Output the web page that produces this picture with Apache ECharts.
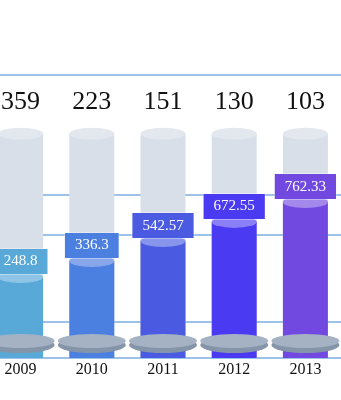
<!DOCTYPE html>
<html>
<head>
<meta charset="utf-8">
<script src="https://cdn.jsdelivr.net/npm/echarts@6/dist/echarts.min.js"></script>
<style>
html,body{margin:0;padding:0;background:#fff;overflow:hidden;width:341px;height:400px;}
#main{width:356px;height:400px;margin-left:-15px;}
</style>
</head>
<body>
<div id="main"></div>
<script>
var categories = ['2009', '2010', '2011', '2012', '2013'];
var topLabels = [359, 223, 151, 130, 103];
var valueLabels = ['248.8', '336.3', '542.57', '672.55', '762.33'];
var barHeights = [28.6, 34.3, 41.3, 48.1, 55.1];
var backHeights = [79.2, 79.2, 79.2, 79.2, 79.2];
// gridline positions as fraction of plot height (from bottom)
var gridLineValues = [57.6, 43.5, 12.7];
var barColors = ['#58a9d8', '#4b7fe0', '#4a5be2', '#4a3af2', '#7249e0'];
var capColors = ['#8ec5e6', '#88a7eb', '#8795ec', '#8a7ff6', '#a289eb'];

var chart = echarts.init(document.getElementById('main'));
function mk(vals, colors) {
  return vals.map(function (v, i) {
    return { value: v, itemStyle: { color: colors[i] } };
  });
}
var gridLineStyle = { color: '#9cc2ea', width: 2 };
function lineAxis(v) {
  // one axis per gridline: tick from min 0 lands on the wanted line
  var inv = v < 50;
  return {
    type: 'value', min: 0, max: 100, inverse: inv,
    interval: inv ? 100 - v : v,
    show: true,
    axisLine: { show: false }, axisTick: { show: false }, axisLabel: { show: false },
    splitLine: { show: true, lineStyle: gridLineStyle }
  };
}
var yAxes = [{ type: 'value', min: 0, max: 100, show: false }];
gridLineValues.forEach(function (v) { yAxes.push(lineAxis(v)); });

var option = {
  animation: false,
  backgroundColor: '#ffffff',
  grid: { left: 0, right: 0, top: 75, bottom: 42 },
  xAxis: {
    type: 'category',
    data: categories,
    axisLine: { show: true, lineStyle: gridLineStyle },
    axisTick: { show: false },
    axisLabel: { color: '#111', fontSize: 16, fontFamily: 'Liberation Serif', margin: 4 }
  },
  yAxis: yAxes,
  series: [
    {
      type: 'bar', barWidth: 45, barGap: '-100%', z: 1,
      data: backHeights,
      itemStyle: { color: '#d9dfe8' }
    },
    {
      type: 'pictorialBar', symbol: 'circle', symbolSize: [45, 12], symbolOffset: [0, -6],
      symbolPosition: 'end', z: 2,
      data: backHeights,
      itemStyle: { color: '#e3e7ee' },
      label: {
        show: true, position: 'top', distance: 13, color: '#111', fontSize: 26,
        fontFamily: 'Liberation Serif',
        formatter: function (p) { return topLabels[p.dataIndex]; }
      }
    },
    {
      type: 'bar', barWidth: 45, barGap: '-100%', z: 3,
      data: mk(barHeights, barColors)
    },
    {
      type: 'pictorialBar', symbol: 'circle', symbolSize: [45, 12], symbolOffset: [0, -6],
      symbolPosition: 'end', z: 6,
      data: mk(barHeights, capColors),
      label: {
        show: true, position: 'top', distance: -3, color: '#fff', fontSize: 15,
        fontFamily: 'Liberation Serif',
        padding: [4, 10], lineHeight: 17,
        borderColor: 'rgba(255,255,255,0.35)', borderWidth: 1,
        formatter: function (p) { return valueLabels[p.dataIndex]; }
      }
    },
    {
      type: 'pictorialBar', symbol: 'circle', symbolSize: [68, 16], symbolOffset: [0, -5],
      symbolPosition: 'start', z: 4,
      data: barHeights,
      itemStyle: { color: '#8595a9' }
    },
    {
      type: 'pictorialBar', symbol: 'circle', symbolSize: [68, 14], symbolOffset: [0, -10],
      symbolPosition: 'start', z: 5,
      data: barHeights,
      itemStyle: { color: '#a5b2c3' }
    }
  ]
};
option.series[3].data.forEach(function (d, i) {
  d.label = { backgroundColor: barColors[i] };
});
chart.setOption(option);
</script>
</body>
</html>
